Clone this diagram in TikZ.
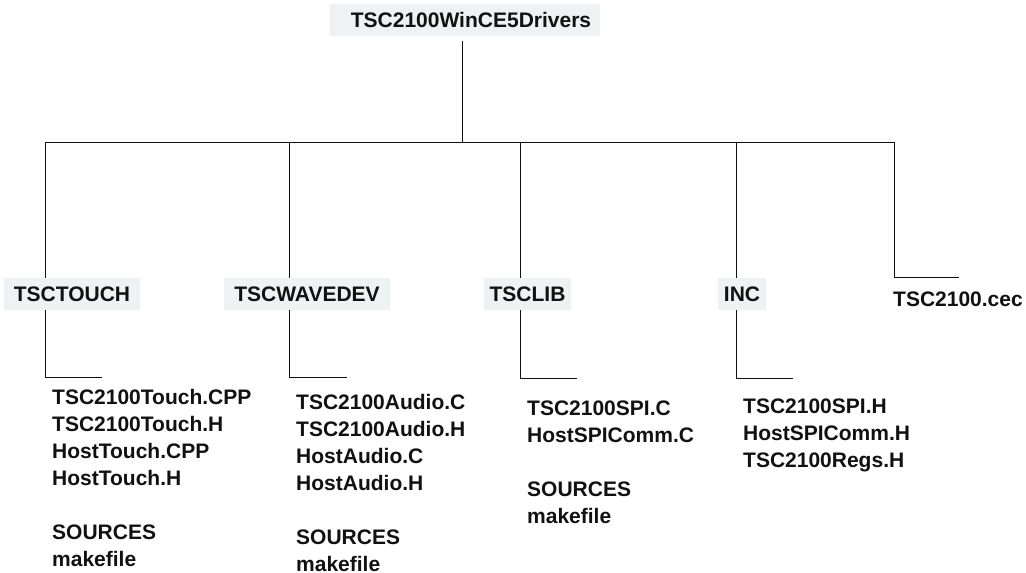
\documentclass[tikz,border=0pt]{standalone}
\usepackage{fontspec}
\setmainfont{Liberation Sans}
\definecolor{boxfill}{RGB}{238,242,242}
\definecolor{ink}{RGB}{17,17,17}
\begin{document}
\begin{tikzpicture}[x=1pt,y=-1pt,
  lbl/.style={font=\fontsize{21}{27}\selectfont\bfseries, text=ink},
  dirbox/.style={lbl, fill=boxfill, inner sep=0pt, minimum height=32pt},
  filelist/.style={lbl, align=left, anchor=north west, inner sep=0pt},
  conn/.style={draw=ink, line width=0.9pt}]
\useasboundingbox (0,0) rectangle (1026,573);

% directory boxes
\node[dirbox, minimum width=270pt] (root) at (465,20) {\hspace*{12pt}TSC2100WinCE5Drivers};
\node[dirbox, minimum width=136pt] (touch) at (72,294) {TSCTOUCH};
\node[dirbox, minimum width=166pt] (wave) at (307,294) {TSCWAVEDEV};
\node[dirbox, minimum width=87pt] (lib) at (527.5,294) {TSCLIB};
\node[dirbox, minimum width=48pt] (inc) at (742,294) {INC};
\node[lbl, anchor=base west, inner sep=0pt] (cec) at (893,306) {TSC2100.cec};

% file lists
\node[filelist] (touchfiles) at (52,389.5) {TSC2100Touch.CPP\\TSC2100Touch.H\\HostTouch.CPP\\HostTouch.H\\[27pt]SOURCES\\makefile};
\node[filelist] (wavefiles) at (296,394.5) {TSC2100Audio.C\\TSC2100Audio.H\\HostAudio.C\\HostAudio.H\\[27pt]SOURCES\\makefile};
\node[filelist] (libfiles) at (527,400.5) {TSC2100SPI.C\\HostSPIComm.C\\[27pt]SOURCES\\makefile};
\node[filelist] (incfiles) at (743,398.5) {TSC2100SPI.H\\HostSPIComm.H\\TSC2100Regs.H};

% bus coordinates
\coordinate (hub) at (462,142);
\coordinate (b1) at (45,142);
\coordinate (b2) at (289,142);
\coordinate (b3) at (520,142);
\coordinate (b4) at (736,142);
\coordinate (b5) at (894,142);
\coordinate (t1) at (102,377);
\coordinate (t2) at (347,377);
\coordinate (t3) at (577,378);
\coordinate (t4) at (793,378);
\coordinate (t5) at (959,277);

% connectors
\draw[conn, shorten <=5pt] (root.south -| hub) -- (hub);
\draw[conn] (b1) -- (b5);
\draw[conn] (b1) -- (touch.north -| b1);
\draw[conn] (b2) -- (wave.north -| b2);
\draw[conn] (b3) -- (lib.north -| b3);
\draw[conn] (b4) -- (inc.north -| b4);
\draw[conn] (b5) |- (t5);
\draw[conn] (touch.south -| b1) |- (t1);
\draw[conn] (wave.south -| b2) |- (t2);
\draw[conn] (lib.south -| b3) |- (t3);
\draw[conn] (inc.south -| b4) |- (t4);
\end{tikzpicture}
\end{document}
